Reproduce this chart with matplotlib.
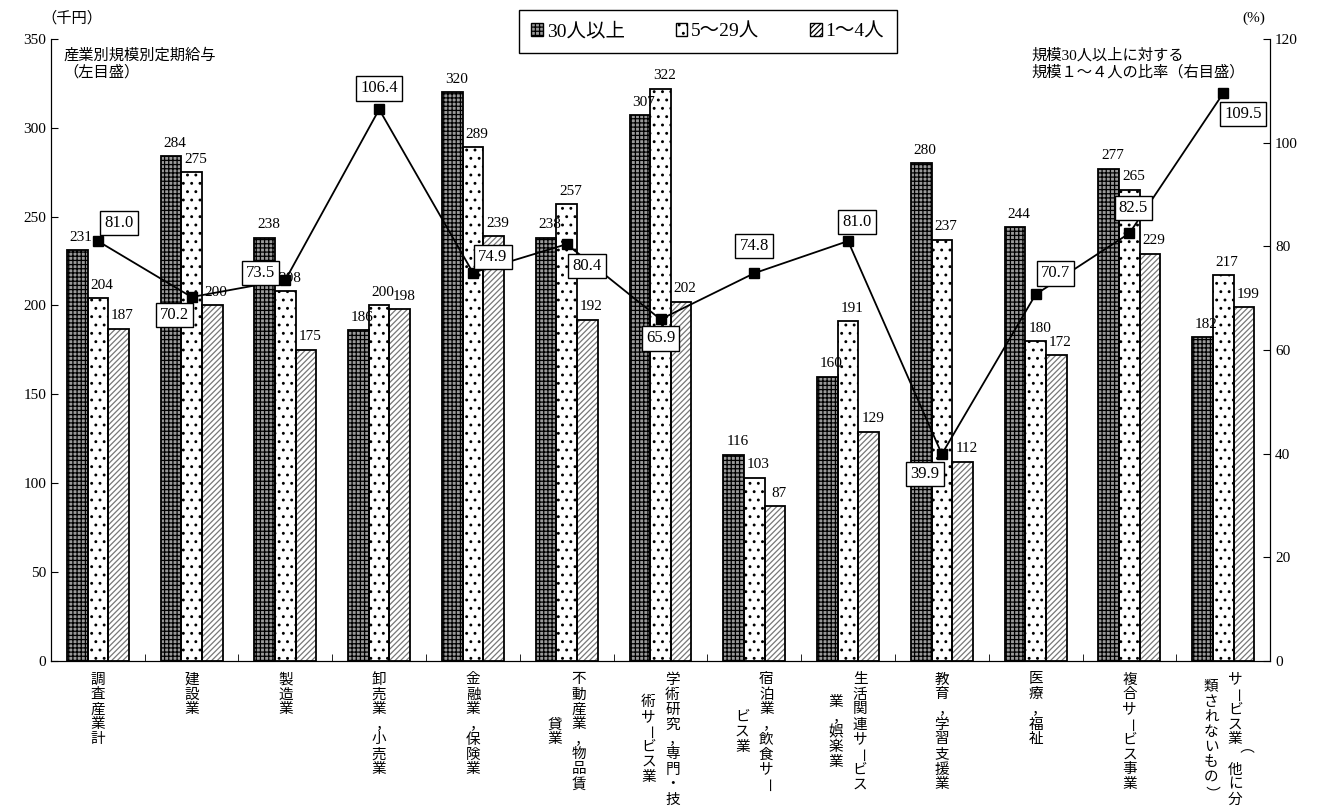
import numpy as np
import matplotlib.pyplot as plt
from matplotlib.patches import Patch

plt.rcParams['font.family'] = ['Liberation Serif', 'Noto Sans CJK JP']
plt.rcParams['hatch.linewidth'] = 0.9

# category labels, one list of columns per category (right column first, vertical writing)
labels = [
    ["調査産業計"],
    ["建設業"],
    ["製造業"],
    ["卸売業，小売業"],
    ["金融業，保険業"],
    ["不動産業，物品賃", "貸業"],
    ["学術研究，専門・技", "術サービス業"],
    ["宿泊業，飲食サー", "ビス業"],
    ["生活関連サービス", "業，娯楽業"],
    ["教育，学習支援業"],
    ["医療，福祉"],
    ["複合サービス事業"],
    ["サービス業（他に分", "類されないもの）"],
]

# monthly scheduled earnings (thousand yen)
size_30plus = [231, 284, 238, 186, 320, 238, 307, 116, 160, 280, 244, 277, 182]
size_5_29 = [204, 275, 208, 200, 289, 257, 322, 103, 191, 237, 180, 265, 217]
size_1_4 = [187, 200, 175, 198, 239, 192, 202, 87, 129, 112, 172, 229, 199]

# ratio of size 1-4 to size 30+ (%)
ratio = [81.0, 70.2, 73.5, 106.4, 74.9, 80.4, 65.9, 74.8, 81.0, 39.9, 70.7, 82.5, 109.5]
# where each ratio box sits relative to its marker (pixels)
ratio_offsets = [(21, 18), (-17, -18), (-25, 7), (0, 21), (20, 16), (20, -22), (0, -19),
                 (0, 27), (9, 19), (-17, -20), (20, 21), (4, 25), (20, -21)]

legend_names = ["30人以上", "5～29人", "1～4人"]

fig = plt.figure(figsize=(13.23, 8.10), dpi=100)
ax = fig.add_axes([0.0385, 0.184, 0.9215, 0.768])
ax2 = ax.twinx()

x = np.arange(len(size_30plus))
w = 0.22

styles = [
    (size_30plus, -w, "#9a9a9a", "++++", "black"),
    (size_5_29, 0, "white", "..", "black"),
    (size_1_4, w, "white", "//////", "#777777"),
]

for vals, off, fc, hatch, hc in styles:
    ax.bar(x + off, vals, w, color=fc, hatch=hatch, edgecolor=hc, linewidth=0, zorder=2)
    ax.bar(x + off, vals, w, fill=False, edgecolor="black", linewidth=1.3, zorder=3)
    for xi, v in zip(x, vals):
        ax.annotate(str(v), (xi + off, v), xytext=(4, 13), textcoords="offset pixels",
                    ha="center", va="center", fontsize=11, zorder=4)

ax.set_xlim(-0.5, 12.5)
ax.set_ylim(0, 350)
ax.set_yticks(range(0, 351, 50))
ax2.set_ylim(0, 120)
ax2.set_yticks(range(0, 121, 20))

ax2.plot(x, ratio, color="black", lw=1.3, marker="s", ms=7, zorder=5)
for xi, r, (dx, dy) in zip(x, ratio, ratio_offsets):
    ax2.annotate(f"{r:.1f}", (xi, r), xytext=(dx, dy), textcoords="offset pixels",
                 ha="center", va="center", fontsize=12, zorder=6,
                 bbox=dict(boxstyle="square,pad=0.25", fc="white", ec="black", lw=1))

for a in (ax, ax2):
    a.spines["top"].set_visible(False)
    a.tick_params(axis="y", direction="in", length=5, labelsize=11)
ax.set_xticks(x)
ax.set_xticklabels([])
ax.tick_params(axis="x", which="major", length=0)
ax.set_xticks(x[:-1] + 0.5, minor=True)
ax.tick_params(axis="x", which="minor", direction="in", length=5)

# vertical category labels, one character at a time
pitch = 15
for xi, cols in zip(x, labels):
    n_long = len(cols[0])
    col_dx = [0] if len(cols) == 1 else [12, -12]
    mid = (n_long - 1) / 2
    for cdx, col in zip(col_dx, cols):
        start = mid - (len(col) - 1) / 2 if col is not cols[0] else 0
        for i, ch in enumerate(col):
            dx, dy, rot = cdx, -(19 + (start + i) * pitch), 0
            if ch == "，":
                dx = dx + 4
            if ch in "ー（）":
                rot = -90
            ax.annotate(ch, (xi, 0), xycoords=("data", "axes fraction"), xytext=(dx, dy),
                        textcoords="offset pixels", ha="center", va="center",
                        fontsize=10.5, rotation=rot, annotation_clip=False)

ax.text(0.01, 0.985, "産業別規模別定期給与\n（左目盛）", transform=ax.transAxes,
        ha="left", va="top", fontsize=11)
ax.text(0.804, 0.985, "規模30人以上に対する\n規模１～４人の比率（右目盛）", transform=ax.transAxes,
        ha="left", va="top", fontsize=11)
fig.text(0.031, 0.978, "（千円）", ha="left", va="center", fontsize=11)
fig.text(0.948, 0.978, "(%)", ha="center", va="center", fontsize=11)

handles = [Patch(facecolor=fc, edgecolor="black", hatch=h)
           for fc, h in [("#9a9a9a", "++++"), ("white", ".."), ("white", "//////")]]
fig.legend(handles, legend_names, loc="center", bbox_to_anchor=(0.535, 0.961), ncol=3,
           fancybox=False, edgecolor="black", framealpha=1, fontsize=14,
           handlelength=0.6, handleheight=0.6, handletextpad=0.2, columnspacing=2.6,
           borderpad=0.65, borderaxespad=0)

fig.savefig("out.png", dpi=100)
